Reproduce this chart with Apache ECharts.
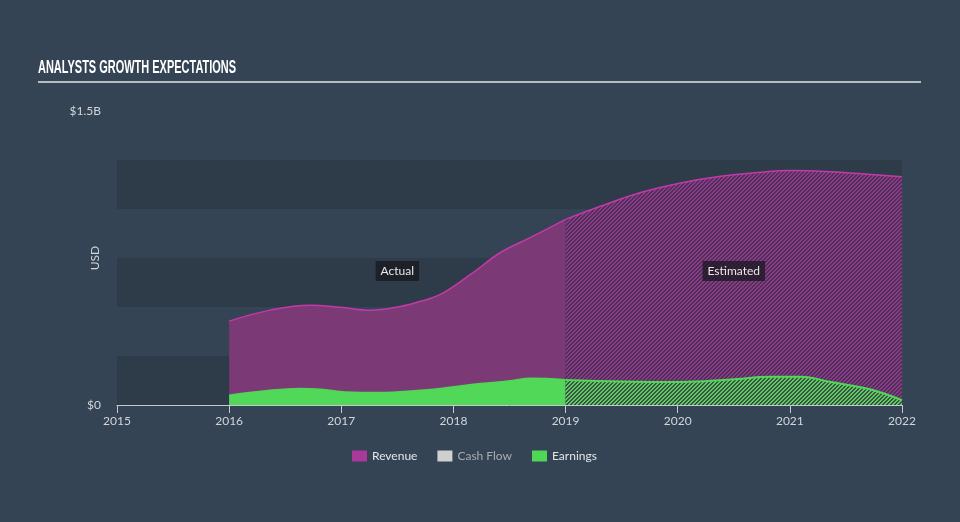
<!DOCTYPE html>
<html>
<head>
<meta charset="utf-8">
<script src="https://cdn.jsdelivr.net/npm/echarts@6/dist/echarts.min.js"></script>
<style>
html,body{margin:0;padding:0;background:#344454;}
#chart{width:960px;height:522px;}
</style>
</head>
<body>
<div id="chart"></div>
<script>
// ---- data (values in USD) ----
const revenueActualYears = [2016.0, 2016.366, 2016.723, 2016.99, 2017.259, 2017.527, 2017.705, 2017.884, 2018.152, 2018.42, 2018.688, 2019.0];
const revenueActual      = [0.428e9, 0.484e9, 0.509e9, 0.499e9, 0.484e9, 0.503e9, 0.529e9, 0.564e9, 0.666e9, 0.778e9, 0.855e9, 0.947e9];
const revenueEstYears    = [2019.0, 2019.312, 2019.67, 2020.027, 2020.384, 2020.741, 2021.009, 2021.366, 2021.723, 2022.0];
const revenueEst         = [0.947e9, 1.014e9, 1.084e9, 1.133e9, 1.167e9, 1.188e9, 1.196e9, 1.190e9, 1.176e9, 1.164e9];
const earningsActualYears= [2016.0, 2016.366, 2016.634, 2016.813, 2017.036, 2017.348, 2017.705, 2017.884, 2018.241, 2018.509, 2018.688, 2019.0];
const earningsActual     = [0.049e9, 0.074e9, 0.083e9, 0.079e9, 0.065e9, 0.062e9, 0.074e9, 0.083e9, 0.108e9, 0.122e9, 0.135e9, 0.128e9];
const earningsEstYears   = [2019.0, 2019.491, 2020.027, 2020.473, 2020.83, 2021.098, 2021.366, 2021.723, 2022.0];
const earningsEst        = [0.128e9, 0.120e9, 0.117e9, 0.130e9, 0.144e9, 0.144e9, 0.117e9, 0.079e9, 0.024e9];
const legendNames = ['Revenue', 'Cash Flow', 'Earnings'];
const yTickLabels = {0: '$0', 1500000000: '$1.5B'};
const annotations = [{text: 'Actual', year: 2017.5, value: 0.684e9}, {text: 'Estimated', year: 2020.5, value: 0.684e9}];
const titleText = 'ANALYSTS GROWTH EXPECTATIONS';

function pairs(xs, ys){ return xs.map((x,i)=>[x, ys[i]]); }

function hatch(on, off){
  const s = 4, c = document.createElement('canvas');
  c.width = s; c.height = s;
  const ctx = c.getContext('2d');
  const parse = h => [parseInt(h.slice(1,3),16), parseInt(h.slice(3,5),16), parseInt(h.slice(5,7),16)];
  const a = parse(on), b = parse(off);
  const img = ctx.createImageData(s, s);
  for (let y=0;y<s;y++) for (let x=0;x<s;x++){
    const col = ((x + y) % s) < 2 ? a : b;
    const k = (y*s+x)*4;
    img.data[k]=col[0]; img.data[k+1]=col[1]; img.data[k+2]=col[2]; img.data[k+3]=255;
  }
  ctx.putImageData(img,0,0);
  return {image: c, repeat: 'repeat'};
}

const FONT = 'Lato, "Noto Sans", sans-serif';
const chart = echarts.init(document.getElementById('chart'), null, {renderer: 'canvas'});
chart.setOption({
  backgroundColor: '#344454',
  animation: false,
  graphic: [
    {type: 'text', x: 38, y: 68, scaleX: 0.61, scaleY: 1,
      style: {text: titleText, fill: '#ffffff', font: 'bold 18px "Liberation Sans", Arial, sans-serif',
        textVerticalAlign: 'middle', textAlign: 'left'}},
    {type: 'line', shape: {x1: 38, y1: 82, x2: 921, y2: 82},
      style: {stroke: '#b8bdc2', lineWidth: 2}}
  ],
  grid: {left: 117, right: 58, top: 111, bottom: 117},
  legend: {
    left: 347, top: 445,
    itemWidth: 15, itemHeight: 11, itemGap: 20,
    icon: 'rect',
    textStyle: {color: '#e4e6e8', fontFamily: FONT, fontSize: 12},
    data: [
      {name: legendNames[0], itemStyle: {color: '#a93a9b'}},
      {name: legendNames[1], itemStyle: {color: '#d0d0d0'}, textStyle: {color: '#a6acb2'}},
      {name: legendNames[2], itemStyle: {color: '#4fd856'}}
    ]
  },
  xAxis: {
    type: 'value', min: 2015, max: 2022, interval: 1,
    axisLine: {show: true, lineStyle: {color: '#c3c9ce', width: 1}},
    axisTick: {show: true, length: 8, lineStyle: {color: '#c3c9ce'}},
    axisLabel: {color: '#d2d6da', fontFamily: FONT, fontSize: 12, margin: 10, formatter: v => String(v)},
    splitLine: {show: false}
  },
  yAxis: [{
    type: 'value', min: 0, max: 1.5e9, interval: 0.25e9,
    axisLine: {show: false}, axisTick: {show: false},
    axisLabel: {color: '#d2d6da', fontFamily: FONT, fontSize: 12, margin: 16,
      formatter: v => yTickLabels[Math.round(v)] || ''},
    splitLine: {show: false},
    splitArea: {show: true, areaStyle: {color: ['#2e3c4a', 'rgba(0,0,0,0)']}}
  }, {
    type: 'value', position: 'left', min: 0, max: 1.5e9, interval: 0.25e9,
    name: 'USD', nameLocation: 'middle', nameGap: 16, nameRotate: 90,
    nameTextStyle: {color: '#d2d6da', fontFamily: FONT, fontSize: 12},
    axisLine: {show: false}, axisTick: {show: false}, axisLabel: {show: false},
    splitLine: {show: false}, splitArea: {show: false}
  }],
  series: [
    {name: 'Revenue', type: 'line', smooth: 0.4, symbol: 'none', z: 2,
      data: pairs(revenueActualYears, revenueActual),
      lineStyle: {color: '#c23aa8', width: 1.5},
      itemStyle: {color: '#a93a9b'},
      areaStyle: {color: '#7b3a76', opacity: 1}},
    {name: 'Revenue', type: 'line', smooth: 0.4, symbol: 'none', z: 2,
      data: pairs(revenueEstYears, revenueEst),
      lineStyle: {color: '#c23aa8', width: 1.5},
      itemStyle: {color: '#a93a9b'},
      areaStyle: {color: hatch('#8b3c88', '#4f2f57'), opacity: 1}},
    {name: 'Cash Flow', type: 'line', symbol: 'none', data: [], itemStyle: {color: '#d0d0d0'}},
    {name: 'Earnings', type: 'line', smooth: 0.4, symbol: 'none', z: 3,
      data: pairs(earningsActualYears, earningsActual),
      lineStyle: {color: '#4fd856', width: 2},
      itemStyle: {color: '#4fd856'},
      areaStyle: {color: '#52d858', opacity: 1}},
    {name: 'Earnings', type: 'line', smooth: 0.4, symbol: 'none', z: 3,
      data: pairs(earningsEstYears, earningsEst),
      lineStyle: {color: '#4fd856', width: 2},
      itemStyle: {color: '#4fd856'},
      areaStyle: {color: hatch('#5ccc5e', '#3c5249'), opacity: 1}},
    {name: 'annot', type: 'line', data: [], z: 10,
      markPoint: {
        symbol: 'rect', symbolSize: 0, silent: true,
        label: {show: true, position: 'inside', color: '#e8e8e8', fontFamily: FONT, fontSize: 12,
          backgroundColor: 'rgba(22,22,28,0.72)', padding: [4, 5, 4, 5],
          formatter: p => p.name},
        data: annotations.map(a => ({name: a.text, coord: [a.year, a.value]}))
      }}
  ]
});
</script>
</body>
</html>
